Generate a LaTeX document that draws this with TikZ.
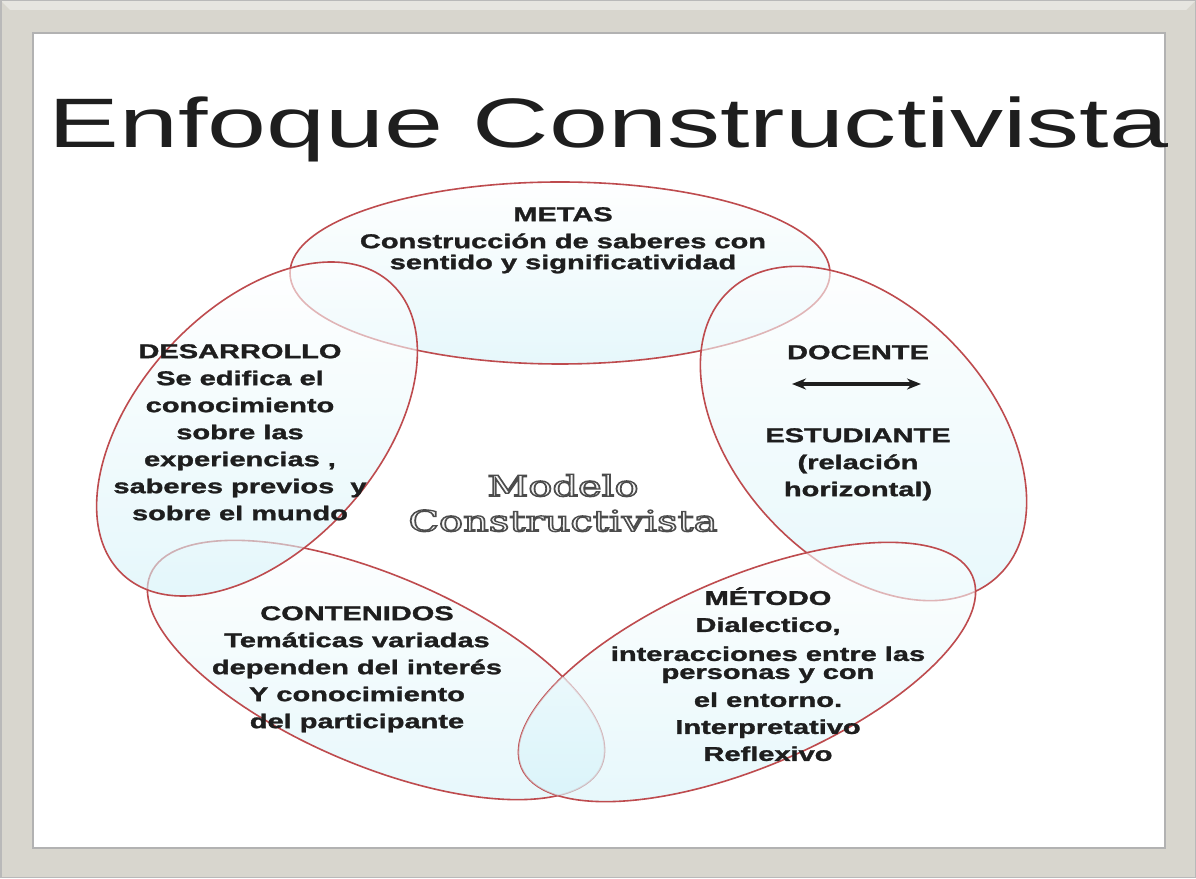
\documentclass[tikz,border=0pt]{standalone}
\usepackage{fontspec}
\newfontfamily\arialf{Liberation Sans}
\newfontfamily\heavyf[FakeBold=1.2]{Liberation Sans Bold}
\newfontfamily\modelf{DejaVu Serif}
\usetikzlibrary{arrows.meta}
\definecolor{framec}{HTML}{D8D6CE}
\definecolor{framelt}{HTML}{E6E5E0}
\definecolor{ring}{HTML}{BE4B4E}
\definecolor{fillc}{HTML}{D6F3F9}
\definecolor{inkc}{HTML}{1E1E1E}
\newcommand{\outlineon}{\special{pdf:literal direct 0.97 g 0.3 G 2 Tr 1.3 w}}
\newcommand{\outlineoff}{\special{pdf:literal direct 0 Tr}}
\begin{document}
\begin{tikzpicture}[x=1pt,y=1pt,
  ringstyle/.style={draw=ring, line width=1.6pt, top color=white, bottom color=fillc, fill opacity=0.6, draw opacity=1},
  veil/.style={top color=white, bottom color=fillc, fill opacity=0.6},
  txt/.style={font=\heavyf\fontsize{20}{27}\selectfont, align=center, xscale=1.45, text=inkc, inner sep=0pt, anchor=north},
  modeltxt/.style={font=\modelf\fontsize{29}{35}\selectfont, align=center, xscale=1.38, inner sep=0pt, text=gray!60}
]
\useasboundingbox (0,0) rectangle (1196,878);
% frame
\fill[framec] (0,0) rectangle (1196,878);
\fill[framelt] (0,878) -- (1196,878) -- (1186,868) -- (10,868) -- cycle;
\draw[gray!55, line width=1.5pt] (0.75,0.75) rectangle (1195.25,877.25);
\fill[white] (33,30) rectangle (1165,845);
\draw[gray!60, line width=1.3pt] (33,30) rectangle (1165,845);

% title
\node[anchor=base west, inner sep=0pt, font=\arialf\fontsize{70}{80}\selectfont, xscale=1.515, text=inkc] (title) at (48,730) {Enfoque Constructivista};

% ellipses (bottom to top)
\draw[ringstyle] (560,605) ellipse [x radius=270, y radius=91];
\draw[ringstyle, rotate around={-46.7:(863.5,444.5)}] (863.5,444.5) ellipse [x radius=196, y radius=127];
\draw[ringstyle, rotate around={-23:(376,208)}] (376,208) ellipse [x radius=245, y radius=95];
\draw[ringstyle, rotate around={23:(747,206)}] (747,206) ellipse [x radius=245, y radius=95];
\begin{scope}
  \clip[rotate around={23:(747,206)}] (747,206) ellipse [x radius=245, y radius=95];
  \path[veil, rotate around={-23:(376,208)}] (376,208) ellipse [x radius=245, y radius=95];
\end{scope}
\draw[ringstyle, rotate around={47.5:(257,449)}] (257,449) ellipse [x radius=198, y radius=120];

% centre text (outlined)
\node[modeltxt] (modelo) at (563,375) {\outlineon Modelo\\\outlineon Constructivista\outlineoff};

% texts
\node[txt] (metas) at (563,671) {METAS\\Construcción de saberes con\\[-6pt]sentido y significatividad};
\node[txt] (desarrollo) at (240,534) {DESARROLLO\\Se edifica el\\conocimiento\\sobre las\\experiencias ,\\saberes previos\ \ y\\sobre el mundo};
\node[txt] (docente) at (858,533) {DOCENTE};
\coordinate (arrL) at (792,494);
\coordinate (arrR) at (921,494);
\draw[line width=3.5pt, draw=inkc, {Stealth[length=14pt,width=11pt]}-{Stealth[length=14pt,width=11pt]}] (arrL) -- (arrR);
\node[txt] (estudiante) at (858,450) {ESTUDIANTE\\(relación\\horizontal)};
\node[txt] (contenidos) at (357,272) {CONTENIDOS\\Temáticas variadas\\dependen del interés\\Y conocimiento\\del participante};
\node[txt] (metodo) at (768,291) {MÉTODO\\Dialectico,\\[2pt]interacciones entre las\\[-9pt]personas y con\\[1pt]el entorno.\\Interpretativo\\Reflexivo};
\end{tikzpicture}
\end{document}
